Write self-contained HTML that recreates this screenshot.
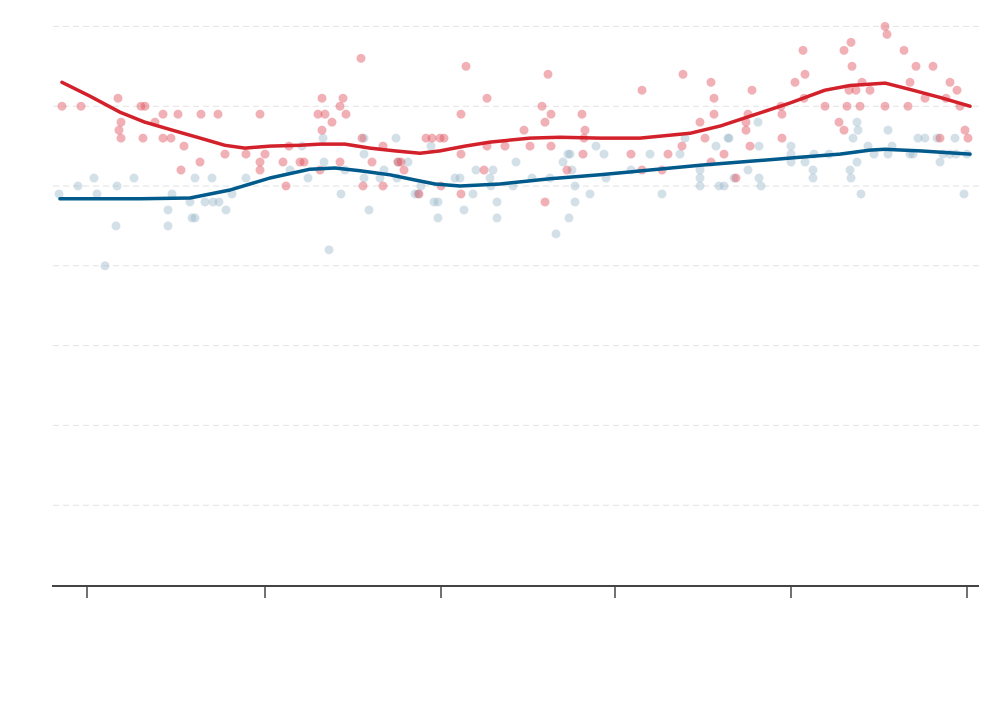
<!DOCTYPE html>
<html><head><meta charset="utf-8"><style>
html,body{margin:0;padding:0;background:#fff;}
svg{display:block;font-family:"Liberation Sans",sans-serif;}
</style></head><body>
<svg id="chart" width="1000" height="710"></svg>
<script>
const gridValues=[10,20,30,40,50,60,70];
const tickValues=[0,44.5,88.5,132,176,220];
const redX=[-6.25,-1.5,7.75,8,8.5,8.5,13.5,14.5,14,17,19,19,21,22.75,23.5,24.25,28.25,28.5,32.75,34.5,39.75,43.25,43.25,43.25,44.5,49,49.75,50.5,53.25,54.25,57.75,58.75,58.75,59.5,61.25,58.25,63.25,63.25,64,64.75,68.5,68.75,69,71.25,74,74,77.75,78.5,79.25,83,84.75,86.25,88.25,89.25,88.5,93.5,93.5,93.5,94.75,99.25,100,100,104.5,109.25,110.75,113.75,114.5,114.5,115.25,116,116,120,123.75,124,124.5,124.25,138.75,138.75,143.75,145.25,148.75,149,153.25,154.5,156,156,156.75,156.75,159.25,162.25,164.75,164.75,165.25,165.75,166.25,173.5,173.75,173.75,177,179,179.5,179.25,184.5,188,189.25,189.25,190,190.5,191.25,191,192.25,193.25,193.75,195.75,199.5,200,199.5,204.25,205.25,205.75,207.25,209.5,211.5,213.25,214.75,215.75,217.5,218.25,219.5,220.25,136];
const redV=[60,60,61,57,58,56,60,60,56,58,59,56,56,59,52,55,53,59,59,54,54,59,53,52,54,53,50,55,53,53,59,61,57,59,58,52,60,53,61,59,66,56,50,53,55,50,53,53,52,49,56,56,56,56,50,59,54,49,65,52,61,55,55,57,55,60,58,48,64,59,55,52,59,54,57,56,62,52,52,54,55,64,58,56,53,63,61,59,54,51,58,57,59,55,62,60,56,59,63,67,64,61,60,58,67,57,60,62,65,68,62,60,63,62,70,69,60,67,60,63,65,61,65,56,61,63,62,60,57,56,54];
const blueX=[-7,-2.25,1.75,2.5,4.5,7.25,7.5,11.75,20.25,20.25,21.25,25.75,26.25,27,27,29.5,31.25,31.5,33,34.75,36.25,39.75,50.75,53.75,55.25,59,59.25,60.5,63.5,64.5,69.25,69.25,69.25,70.5,73.25,74.25,77.25,77.75,77.5,80.25,82,82.75,83.5,86,86.75,87.75,87.75,92,93.25,94.25,96.5,97.25,100.75,101,101.5,102.5,102.5,107.25,106.5,111.25,115.75,117.25,119,120.25,120.75,121.25,120.5,122,122,125.75,127.25,129.25,129.75,136,140.75,143.75,148.25,149.5,153.25,153.25,153.25,157.25,158,159.25,160.25,160.5,161.75,165.25,167.75,168,168,168.5,176,176,176,179.5,181.5,181.5,181.75,185.5,190.75,191,191.5,192.5,192.5,192.75,193.5,195.25,196.75,200.25,201.25,200.25,205.75,206.5,207.75,209.5,212.5,213.25,214,215.75,217,217.25,219.25,220];
const blueV=[49,50,51,49,40,45,50,51,47,45,49,48,46,46,51,48,51,48,48,47,49,51,52,55,51,56,53,42,49,52,54,56,51,47,51,52,56,53,51,53,49,49,50,55,48,48,46,51,51,47,49,52,51,50,52,48,46,53,50,51,51,44,53,54,54,52,46,50,48,49,55,54,51,52,54,49,54,56,52,51,50,55,50,50,56,56,51,52,58,55,51,50,55,54,53,53,52,51,54,54,52,51,56,53,58,57,49,55,54,57,55,54,54,54,56,56,56,53,54,54,56,54,49,54];
const redLineX=[-6.25,0.75,8.25,14.5,22,28.25,34.5,39.5,45.75,53.25,58.25,64.5,70.75,77,83.25,88.25,94.5,100.75,110.75,118.25,128.25,138.25,150.75,158.25,165.75,175.75,184.5,190.75,199.5,205.75,213.25,220.75];
const redLineV=[63,61.25,59.25,58,56.9,56,55.1,54.75,55,55.1,55.25,55.25,54.75,54.4,54.1,54.4,55,55.5,56,56.1,56,56,56.6,57.5,58.75,60.4,62,62.6,62.9,62.1,61.1,60];
const blueLineX=[-6.75,3.25,13.25,25.75,35.75,45.75,55.75,62,68.25,75.75,82,87,93.25,103.25,115.75,128.25,140.75,153.25,165.75,178.25,188.25,195.75,199.5,208.25,220.75];
const blueLineV=[48.4,48.4,48.4,48.5,49.5,51,52.1,52.25,51.9,51.4,50.75,50.25,50,50.25,50.9,51.4,52,52.6,53.1,53.6,54,54.5,54.6,54.4,54];

const NS='http://www.w3.org/2000/svg';
const svg=document.getElementById('chart');
const xs=d=>87+4*d;
const ys=v=>585-7.98*v;
function mk(tag,attrs,parent){const e=document.createElementNS(NS,tag);for(const k in attrs)e.setAttribute(k,attrs[k]);(parent||svg).appendChild(e);return e;}

gridValues.forEach(v=>{
  const l=mk('line',{x1:53,x2:982,y1:ys(v),y2:ys(v),stroke:'#e2e2e2','stroke-width':1,'stroke-dasharray':'6,4'});
  
  
});
const ax=mk('line',{x1:52,x2:979,y1:586,y2:586,stroke:'#444','stroke-width':2});


tickValues.forEach(t=>{
  const l=mk('line',{x1:xs(t),x2:xs(t),y1:586,y2:598,stroke:'#444','stroke-width':1.5});
  
  
});
const gb=mk('g',{});


blueX.forEach((x,i)=>{
  const c=mk('circle',{cx:xs(x),cy:ys(blueV[i]),r:4.5,fill:'rgba(150,182,200,0.42)'},gb);
  
  
});
const gr=mk('g',{});


redX.forEach((x,i)=>{
  const c=mk('circle',{cx:xs(x),cy:ys(redV[i]),r:4.5,fill:'rgba(222,80,90,0.45)'},gr);
  
  
});
function line(X,V,color){return X.map((x,i)=>xs(x).toFixed(1)+','+ys(V[i]).toFixed(1)).join(' ');}
const bl=mk('polyline',{points:line(blueLineX,blueLineV),fill:'none',stroke:'#005a8c','stroke-width':3.5,'stroke-linejoin':'round','stroke-linecap':'round'});


const rl=mk('polyline',{points:line(redLineX,redLineV),fill:'none',stroke:'#d3212b','stroke-width':3.5,'stroke-linejoin':'round','stroke-linecap':'round'});


</script>
</body></html>
